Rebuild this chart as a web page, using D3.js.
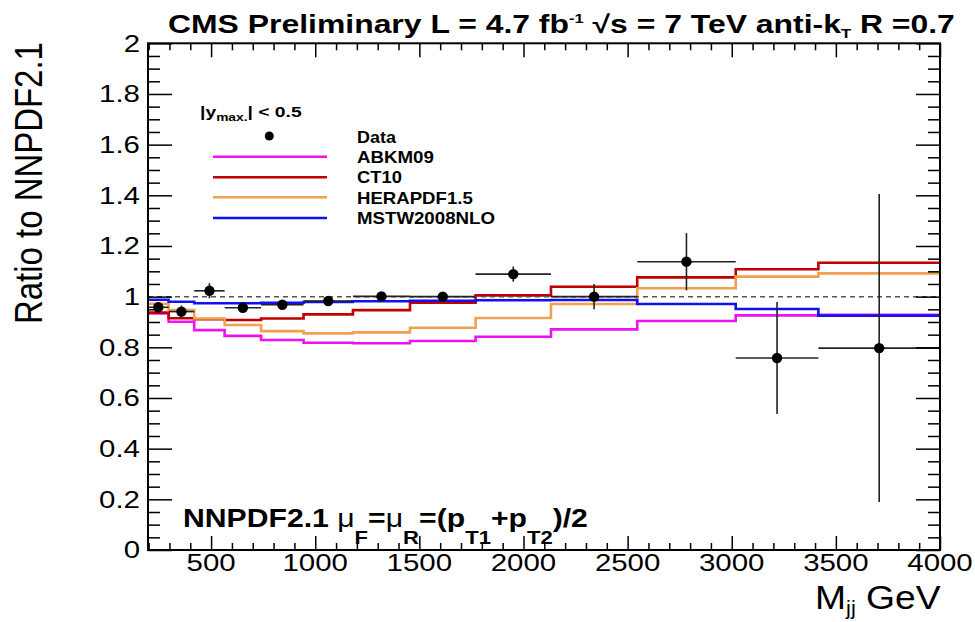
<!DOCTYPE html>
<html><head><meta charset="utf-8">
<script src="https://cdn.jsdelivr.net/npm/d3@7"></script>
<style>body{margin:0;background:#fff} text{font-family:"Liberation Sans",Arial,Helvetica,sans-serif;fill:#000}</style>
</head><body><svg id="c" width="975" height="622"></svg>
<script>
// ---------- data ----------
const binEdges = [197, 296, 419, 565, 740, 944, 1181, 1455, 1770, 2132, 2546, 3019, 3416, 4000];
const dataRatio = [0.958, 0.941, 1.023, 0.956, 0.968, 0.983, 1.001, 1.000, 1.089, 1.000, 1.138, 0.758, 0.797];
const dataErr   = [0.015, 0.024, 0.030, 0.010, 0.010, 0.010, 0.010, 0.010, 0.030, 0.050, 0.113, 0.221, 0.608];
const abkm09 = [0.934, 0.901, 0.868, 0.845, 0.829, 0.818, 0.816, 0.825, 0.842, 0.871, 0.904, 0.926, 0.928];
const ct10   = [0.937, 0.915, 0.911, 0.908, 0.914, 0.930, 0.947, 0.976, 1.005, 1.039, 1.076, 1.108, 1.134];
const hera15 = [0.972, 0.947, 0.914, 0.888, 0.864, 0.855, 0.859, 0.877, 0.916, 0.971, 1.033, 1.079, 1.092];
const mstw08 = [0.988, 0.980, 0.974, 0.974, 0.976, 0.979, 0.982, 0.984, 0.986, 0.987, 0.971, 0.951, 0.925];
const seriesNames = ["ABKM09", "CT10", "HERAPDF1.5", "MSTW2008NLO"];
const seriesColors = ["#f010f0", "#c00000", "#f0a050", "#1010f0"];
const xTicks = [500, 1000, 1500, 2000, 2500, 3000, 3500, 4000];
const xTickLabels = ["500", "1000", "1500", "2000", "2500", "3000", "3500", "4000"];
const yTicks = [0, 0.2, 0.4, 0.6, 0.8, 1, 1.2, 1.4, 1.6, 1.8, 2];
const yTickLabels = ["0", "0.2", "0.4", "0.6", "0.8", "1", "1.2", "1.4", "1.6", "1.8", "2"];

// ---------- layout ----------
const svg = d3.select("#c");
const x = d3.scaleLinear().domain([197, 4000]).range([148, 940]);
const y = d3.scaleLinear().domain([0, 2]).range([550, 43.3]);
const xMinor = d3.range(200, 4001, 100).filter(v => v % 500 !== 0);
const yMinor = d3.range(0, 41).map(i => i * 0.05).filter(v => Math.abs(v * 5 - Math.round(v * 5)) > 1e-6);

function fit(t, tx, ty, w, extra) {
  t.attr("x", 0).attr("y", 0);
  const bw = t.node().getBBox().width;
  t.attr("transform", `translate(${tx},${ty})${extra || ""} scale(${w / bw},1)`);
}

// ---------- theory steps ----------
const seriesVals = [abkm09, ct10, hera15, mstw08];
const stepLine = d3.line().x(d => x(d[0])).y(d => y(d[1])).curve(d3.curveStepAfter);
seriesVals.forEach((vals, si) => {
  const pts = binEdges.map((e, i) => [e, vals[Math.min(i, vals.length - 1)]]);
  svg.append("path").attr("d", stepLine(pts)).attr("fill", "none")
    .attr("stroke", seriesColors[si]).attr("stroke-width", 2.6);
});

// dashed unity line
svg.append("line").attr("x1", x(197)).attr("x2", x(4000)).attr("y1", y(1)).attr("y2", y(1))
  .attr("stroke", "#555").attr("stroke-width", 1.5).attr("stroke-dasharray", "5,4");

// ---------- data points ----------
const dg = svg.append("g");
dataRatio.forEach((v, i) => {
  const e0 = binEdges[i], e1 = binEdges[i + 1], c = (e0 + e1) / 2;
  dg.append("line").attr("x1", x(e0)).attr("x2", x(e1)).attr("y1", y(v)).attr("y2", y(v))
    .attr("stroke", "#222").attr("stroke-width", 1.6);
  dg.append("line").attr("x1", x(c)).attr("x2", x(c)).attr("y1", y(v - dataErr[i])).attr("y2", y(v + dataErr[i]))
    .attr("stroke", "#222").attr("stroke-width", 1.6);
  dg.append("circle").attr("cx", x(c)).attr("cy", y(v)).attr("r", 5.2).attr("fill", "#000");
});

// ---------- frame & axes ----------
function axisG(axis, tx, ty) {
  const g = svg.append("g").attr("transform", `translate(${tx},${ty})`).call(axis);
  g.select(".domain").remove();
  g.selectAll("text").remove();
  g.selectAll("line").attr("stroke", "#000").attr("stroke-width", 1.5);
  return g;
}
axisG(d3.axisBottom(x).tickValues(xTicks).tickSizeInner(-14).tickSizeOuter(0), 0, 550);
axisG(d3.axisBottom(x).tickValues(xMinor).tickSizeInner(-7).tickSizeOuter(0), 0, 550);
axisG(d3.axisTop(x).tickValues(xTicks).tickSizeInner(-14).tickSizeOuter(0), 0, 43.3);
axisG(d3.axisTop(x).tickValues(xMinor).tickSizeInner(-7).tickSizeOuter(0), 0, 43.3);
axisG(d3.axisLeft(y).tickValues(yTicks).tickSizeInner(-24).tickSizeOuter(0), 148, 0);
axisG(d3.axisLeft(y).tickValues(yMinor).tickSizeInner(-12).tickSizeOuter(0), 148, 0);
axisG(d3.axisRight(y).tickValues(yTicks).tickSizeInner(-24).tickSizeOuter(0), 940, 0);
axisG(d3.axisRight(y).tickValues(yMinor).tickSizeInner(-12).tickSizeOuter(0), 940, 0);
svg.append("rect").attr("x", 148).attr("y", 43.3).attr("width", 940 - 148).attr("height", 550 - 43.3)
  .attr("fill", "none").attr("stroke", "#000").attr("stroke-width", 2);

// tick labels
xTicks.forEach((v, i) => {
  svg.append("text").attr("text-anchor", "middle").attr("font-size", 23)
    .attr("transform", `translate(${x(v)},571) scale(1.28,1)`).text(xTickLabels[i]);
});
yTicks.forEach((v, i) => {
  svg.append("text").attr("text-anchor", "end").attr("font-size", 23)
    .attr("transform", `translate(140,${y(v) + 8.2}) scale(1.28,1)`).text(yTickLabels[i]);
});

// axis titles
const yt = svg.append("text").attr("font-size", 38).text("Ratio to NNPDF2.1");
fit(yt, 42, 324, 282, " rotate(-90)");

const xt = svg.append("text").attr("font-size", 34);
xt.append("tspan").text("M");
xt.append("tspan").attr("font-size", 20).attr("dy", 6).text("jj");
xt.append("tspan").attr("dy", -6).text(" GeV");
fit(xt, 815, 609, 126);

// title
const tt = svg.append("text").attr("font-size", 25).attr("font-weight", "bold");
tt.append("tspan").text("CMS Preliminary L = 4.7 fb");
tt.append("tspan").attr("font-size", 13).attr("dy", -10).text("-1");
tt.append("tspan").attr("dy", 10).text(" \u221As = 7 TeV anti-k");
tt.append("tspan").attr("font-size", 13).attr("dy", 5).text("T");
tt.append("tspan").attr("dy", -5).text(" R =0.7");
fit(tt, 168, 33, 787);

// bottom annotation
const ba = svg.append("text").attr("font-size", 26).attr("font-weight", "bold");
ba.append("tspan").text("NNPDF2.1 ");
ba.append("tspan").attr("font-weight", "normal").text("\u03BC");
ba.append("tspan").attr("font-size", 19).attr("dy", 17).text("F");
ba.append("tspan").attr("dy", -17).text("=");
ba.append("tspan").attr("font-weight", "normal").text("\u03BC");
ba.append("tspan").attr("font-size", 19).attr("dy", 17).text("R");
ba.append("tspan").attr("dy", -17).text("=(p");
ba.append("tspan").attr("font-size", 19).attr("dy", 17).text("T1");
ba.append("tspan").attr("dy", -17).text("+p");
ba.append("tspan").attr("font-size", 19).attr("dy", 17).text("T2");
ba.append("tspan").attr("dy", -17).text(")/2");
fit(ba, 183, 527, 405);

// ---------- legend ----------
const lh = svg.append("text").attr("font-size", 14).attr("font-weight", "bold");
lh.append("tspan").text("|y");
lh.append("tspan").attr("font-size", 10).attr("dy", 4).text("max.");
lh.append("tspan").attr("dy", -4).text("| < 0.5");
fit(lh, 200, 117, 102);

svg.append("circle").attr("cx", 269.3).attr("cy", 136).attr("r", 4.5).attr("fill", "#000");
const dl = svg.append("text").attr("font-size", 16).attr("font-weight", "bold").text("Data");
fit(dl, 357, 142.7, 39);
const legY = [156.7, 177.3, 197.3, 218];
const legTextY = [163.3, 183, 203.5, 224];
const legW = [77, 45, 116, 138];
seriesNames.forEach((n, i) => {
  svg.append("line").attr("x1", 213).attr("x2", 327).attr("y1", legY[i]).attr("y2", legY[i])
    .attr("stroke", seriesColors[i]).attr("stroke-width", 2.6);
  const t = svg.append("text").attr("font-size", 16).attr("font-weight", "bold").text(n);
  fit(t, 357, legTextY[i], legW[i]);
});
</script></body></html>
